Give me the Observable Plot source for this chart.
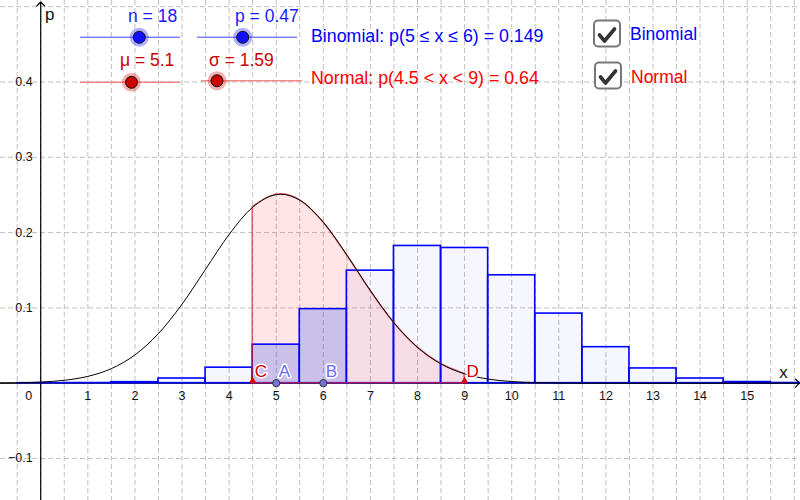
<!DOCTYPE html>
<html><head><meta charset="utf-8">
<script src="https://cdn.jsdelivr.net/npm/d3@7"></script>
<script src="https://cdn.jsdelivr.net/npm/@observablehq/plot@0.6"></script>
<style>
body{margin:0;background:#fff;}
#wrap{position:relative;width:800px;height:500px;overflow:hidden;font-family:"Liberation Sans",Arial,sans-serif;}
#wrap svg{position:absolute;left:0;top:0;}
</style></head><body><div id="wrap"></div>
<script>
// ---- data ----
const binomK = [0,1,2,3,4,5,6,7,8,9,10,11,12,13,14,15,16,17,18];
const binomP = [0.000011,0.000174,0.00131,0.00620,0.02061,0.05116,0.09831,0.14945,0.18223,0.17955,0.14330,0.09242,0.04781,0.01957,0.00620,0.00147,0.00025,0.00003,0.000001];
const selectedK = [5,6];
const normalX = [-1,-0.5,0,0.5,1,1.5,2,2.5,3,3.5,4,4.5,5,5.1,5.5,6,6.5,7,7.5,8,8.5,9,9.5,10,10.5,11,11.5,12,12.5,13,14,15,16,17];
const normalY = [0.00016,0.00051,0.00146,0.00382,0.00903,0.01933,0.03750,0.06589,0.10489,0.15124,0.19750,0.23366,0.25040,0.25090,0.24309,0.21376,0.17028,0.12286,0.08031,0.04755,0.02551,0.01239,0.00545,0.00217,0.00079,0.00026,0.00008,0.00002,0,0,0,0,0,0];
const normalInterval = [4.5, 9];
const pointNamesAB = ["A","B"];
const pointXAB = [5,6];
const pointNamesCD = ["C","D"];
const pointXCD = [4.5,9];
const xTickValues = [1,2,3,4,5,6,7,8,9,10,11,12,13,14,15];
const xTickLabels = ["1","2","3","4","5","6","7","8","9","10","11","12","13","14","15"];
const yTickValues = [-0.1,0.1,0.2,0.3,0.4];
const yTickLabels = ["\u22120.1","0.1","0.2","0.3","0.4"];
const xGridValues = [-0.5,0,0.5,1,1.5,2,2.5,3,3.5,4,4.5,5,5.5,6,6.5,7,7.5,8,8.5,9,9.5,10,10.5,11,11.5,12,12.5,13,13.5,14,14.5,15,15.5,16];
const yGridValues = [-0.1,0,0.1,0.2,0.3,0.4,0.5];
const sliderLabels = ["n = 18","p = 0.47","\u03bc = 5.1","\u03c3 = 1.59"];
const resultTexts = ["Binomial: p(5 \u2264 x \u2264 6) = 0.149","Normal: p(4.5 < x < 9) = 0.64"];
const checkboxLabels = ["Binomial","Normal"];

// ---- derived tables ----
const xDomain = [-0.854, 16.132];
const yDomain = [-0.1558, 0.5082];
const binom = binomK.map((k,i)=>({k, p: binomP[i], sel: selectedK.includes(k)}));
const normal = normalX.map((x,i)=>({x, y: normalY[i]}));
const shaded = normal.filter(d=>d.x>=normalInterval[0] && d.x<=normalInterval[1]);
const ab = pointNamesAB.map((n,i)=>({name:n, x:pointXAB[i]}));
const cd = pointNamesCD.map((n,i)=>({name:n, x:pointXCD[i]}));
const xt = xTickValues.map((v,i)=>({v, t:xTickLabels[i]}));
const yt = yTickValues.map((v,i)=>({v, t:yTickLabels[i]}));
const FONT = '"Liberation Sans",Arial,sans-serif';
const gridStyle = {stroke:"#c0c0c0", strokeOpacity:1, strokeDasharray:"5,3", strokeWidth:1};

const chart = Plot.plot({
  width:800, height:500, margin:0,
  x:{domain:xDomain, axis:null}, y:{domain:yDomain, axis:null},
  style:{fontFamily:FONT, background:"white"},
  marks:[
    Plot.gridX(xGridValues, gridStyle),
    Plot.gridY(yGridValues, gridStyle),
    Plot.arrow([{x1:0,y1:yDomain[0],x2:0,y2:yDomain[1]}],{x1:"x1",y1:"y1",x2:"x2",y2:"y2",stroke:"black",strokeWidth:1.2,headLength:7,headAngle:90,insetEnd:1.5}),
    Plot.arrow([{x1:xDomain[0],y1:0,x2:xDomain[1],y2:0}],{x1:"x1",y1:"y1",x2:"x2",y2:"y2",stroke:"black",strokeWidth:1.2,headLength:7,headAngle:90,insetEnd:1}),
    Plot.areaY(shaded,{x:"x",y:"y",curve:"monotone-x",fill:"#ff0000",fillOpacity:0.1}),
    Plot.rect(binom.filter(d=>!d.sel),{x1:d=>d.k-0.5,x2:d=>d.k+0.5,y1:0,y2:"p",fill:"#0000ff",fillOpacity:0.035,stroke:"#0000ff",strokeWidth:1.6,clip:true}),
    Plot.rect(binom.filter(d=>d.sel),{x1:d=>d.k-0.5,x2:d=>d.k+0.5,y1:0,y2:"p",fill:"#5269f1",fillOpacity:0.3,stroke:"#0000ff",strokeWidth:1.6}),
    Plot.areaY(shaded,{x:"x",y:"y",curve:"monotone-x",fill:"none",stroke:"#d42a2a",strokeWidth:1.5,strokeOpacity:0.7}),
    Plot.line(normal,{x:"x",y:"y",curve:"monotone-x",stroke:"black",strokeWidth:1,clip:true}),
    Plot.dot(cd,{x:"x",y:0,symbol:"triangle",r:2.8,fill:"#dd0000",stroke:"none",dy:-2.2}),
    Plot.dot(ab,{x:"x",y:0,r:3.6,fill:"#7474dc",stroke:"#333",strokeWidth:1}),
    Plot.text(cd,{x:"x",y:0,text:"name",textAnchor:"start",lineAnchor:"bottom",dx:2,dy:-6,fontSize:17,fill:"#d40000",stroke:"white",strokeWidth:3,paintOrder:"stroke"}),
    Plot.text(ab,{x:"x",y:0,text:"name",textAnchor:"start",lineAnchor:"bottom",dx:2.5,dy:-6,fontSize:17,fill:"#6a6aff",stroke:"white",strokeWidth:3,paintOrder:"stroke"}),
    Plot.text(xt,{x:"v",y:0,text:"t",dy:12.5,fontSize:12.5,fill:"#111"}),
    Plot.text(["0"],{x:0,y:0,text:d=>d,dy:12.5,dx:-12,fontSize:12.5,fill:"#111"}),
    Plot.text(yt,{x:0,y:"v",text:"t",textAnchor:"end",dx:-8,fontSize:12.5,fill:"#111"}),
    Plot.text(["x"],{x:xDomain[1],y:0,text:d=>d,dx:-17,dy:-5,lineAnchor:"bottom",fontSize:17,fill:"#111"}),
    Plot.text(["p"],{x:0,y:yDomain[1],text:d=>d,dx:9,dy:19,lineAnchor:"bottom",fontSize:17,fill:"#111"})
  ]
});
document.getElementById("wrap").appendChild(chart);

// ---- overlay widgets (sliders, results, checkboxes) ----
const ov = d3.create("svg").attr("width",800).attr("height",500).style("font-family",FONT);
const sliders = [
  {lx1:80, lx2:180, ly:37.3, px:139.3, tx:128, ty:22, text:sliderLabels[0], line:"#8080ff", fill:"#1010ff", halo:"#2020ff", tc:"#1a1aff"},
  {lx1:197,lx2:297, ly:37.3, px:242.7, tx:235, ty:22, text:sliderLabels[1], line:"#8080ff", fill:"#1010ff", halo:"#2020ff", tc:"#1a1aff"},
  {lx1:80, lx2:180, ly:82.3, px:131.5, tx:120, ty:66, text:sliderLabels[2], line:"#f08888", fill:"#cc0000", halo:"#e02020", tc:"#cc0000"},
  {lx1:201,lx2:302, ly:80.8, px:217,   tx:209, ty:66, text:sliderLabels[3], line:"#f08888", fill:"#cc0000", halo:"#e02020", tc:"#cc0000"}
];
for (const s of sliders) {
  ov.append("line").attr("x1",s.lx1).attr("x2",s.lx2).attr("y1",s.ly).attr("y2",s.ly).attr("stroke",s.line).attr("stroke-width",1.5);
  ov.append("circle").attr("cx",s.px).attr("cy",s.ly).attr("r",9.5).attr("fill",s.halo).attr("fill-opacity",0.35);
  ov.append("circle").attr("cx",s.px).attr("cy",s.ly).attr("r",6).attr("fill",s.fill).attr("stroke","#111").attr("stroke-width",1);
  ov.append("text").attr("x",s.tx).attr("y",s.ty).attr("font-size",17.5).attr("fill",s.tc).text(s.text);
}
ov.append("text").attr("x",311).attr("y",42).attr("font-size",17.8).attr("fill","#0000ff").text(resultTexts[0]);
ov.append("text").attr("x",311).attr("y",83.5).attr("font-size",17.8).attr("fill","#ff0000").text(resultTexts[1]);
const boxes = [{x:594,y:20.5,c:"#0000ff",tx:630,ty:40},{x:595,y:62.5,c:"#ff0000",tx:631,ty:82.5}];
boxes.forEach((b,i)=>{
  ov.append("rect").attr("x",b.x).attr("y",b.y).attr("width",26).attr("height",26).attr("rx",4)
    .attr("fill","white").attr("stroke","#777").attr("stroke-width",2);
  ov.append("path").attr("d",`M${b.x+5.5},${b.y+14.5} L${b.x+10.5},${b.y+20.5} L${b.x+20.5},${b.y+8.5}`)
    .attr("fill","none").attr("stroke","#333").attr("stroke-width",3.6).attr("stroke-linecap","round").attr("stroke-linejoin","round");
  ov.append("text").attr("x",b.tx).attr("y",b.ty).attr("font-size",17.5).attr("fill",b.c).text(checkboxLabels[i]);
});
document.getElementById("wrap").appendChild(ov.node());
</script>
</body></html>
